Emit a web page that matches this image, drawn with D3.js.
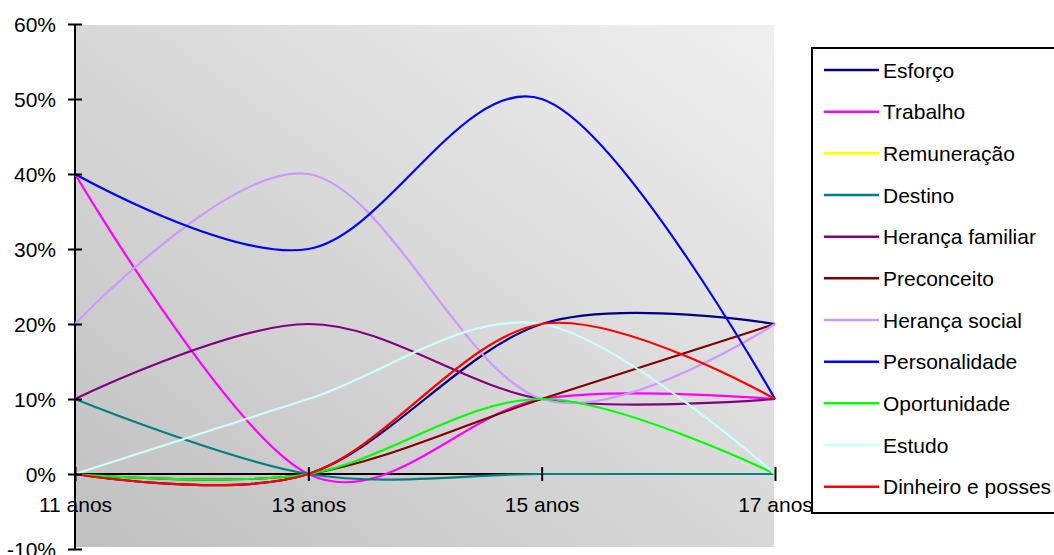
<!DOCTYPE html>
<html>
<head>
<meta charset="utf-8">
<script src="https://cdn.jsdelivr.net/npm/d3@7"></script>
<style>
  html, body { margin: 0; padding: 0; background: #ffffff; }
  svg { display: block; font-family: "Liberation Sans", Arial, sans-serif; }
</style>
</head>
<body>
<svg id="chart" width="1054" height="555"></svg>
<script>
// ---- data ----
const categories = ["11 anos", "13 anos", "15 anos", "17 anos"];
const seriesNames = ["Esforço", "Trabalho", "Remuneração", "Destino", "Herança familiar",
  "Preconceito", "Herança social", "Personalidade", "Oportunidade", "Estudo", "Dinheiro e posses"];
const seriesColors = ["#000080", "#FF00FF", "#FFFF00", "#008080", "#800080",
  "#800000", "#CC99FF", "#0000FF", "#00FF00", "#CCFFFF", "#FF0000"];
const esforco = [0, 0, 20, 20];
const trabalho = [40, 0, 10, 10];
const remuneracao = [null, null, null, null];
const destino = [10, 0, 0, 0];
const herancaFamiliar = [10, 20, 10, 10];
const preconceito = [0, 0, 10, 20];
const herancaSocial = [20, 40, 10, 20];
const personalidade = [40, 30, 50, 10];
const oportunidade = [0, 0, 10, 0];
const estudo = [0, 10, 20, 0];
const dinheiro = [0, 0, 20, 10];
const seriesValues = [esforco, trabalho, remuneracao, destino, herancaFamiliar,
  preconceito, herancaSocial, personalidade, oportunidade, estudo, dinheiro];
const yTicks = [-10, 0, 10, 20, 30, 40, 50, 60];

// ---- layout ----
const svg = d3.select("#chart");
const x = d3.scalePoint().domain(categories).range([75, 775]);
const y = d3.scaleLinear().domain([-10, 60]).range([549, 24]);

const defs = svg.append("defs");
const grad = defs.append("linearGradient").attr("id", "bg")
  .attr("x1", 0).attr("y1", 1).attr("x2", 1).attr("y2", 0);
grad.append("stop").attr("offset", 0).attr("stop-color", "#c0c0c0");
grad.append("stop").attr("offset", 1).attr("stop-color", "#f0f0f0");

svg.append("rect")
  .attr("x", 75).attr("y", 25).attr("width", 699).attr("height", 522)
  .attr("fill", "url(#bg)");

// axis lines
svg.append("line").attr("x1", 75).attr("x2", 75).attr("y1", y(60)).attr("y2", y(-10))
  .attr("stroke", "#000").attr("stroke-width", 2);
svg.append("line").attr("x1", x(categories[0])).attr("x2", x(categories[3]))
  .attr("y1", y(0)).attr("y2", y(0)).attr("stroke", "#000").attr("stroke-width", 2);

// series
const line = d3.line()
  .defined(d => d.v !== null)
  .x(d => x(d.c))
  .y(d => y(d.v))
  .curve(d3.curveCardinal.tension(0));

seriesValues.forEach((vals, i) => {
  const pts = vals.map((v, j) => ({ c: categories[j], v: v }));
  if (pts.every(p => p.v === null)) return;
  svg.append("path").datum(pts)
    .attr("d", line)
    .attr("fill", "none")
    .attr("stroke", seriesColors[i])
    .attr("stroke-width", 2.2)
    .attr("stroke-linejoin", "round");
});

// y axis ticks & labels
const yAxis = d3.axisLeft(y).tickValues(yTicks).tickFormat(d => d + "%")
  .tickSizeInner(7).tickSizeOuter(0).tickPadding(12);
const gy = svg.append("g").attr("transform", "translate(75,0)").call(yAxis);
gy.select(".domain").remove();
gy.selectAll(".tick line").attr("x1", 7).attr("x2", -7).attr("stroke", "#000").attr("stroke-width", 2);
gy.selectAll(".tick text").attr("font-size", 21).attr("fill", "#000")
  .attr("font-family", "'Liberation Sans', Arial, sans-serif").attr("dy", "0.35em");

// x axis ticks & labels
const xAxis = d3.axisBottom(x).tickSizeInner(7).tickSizeOuter(0).tickPadding(0);
const gx = svg.append("g").attr("transform", `translate(0,${y(0)})`).call(xAxis);
gx.select(".domain").remove();
gx.selectAll(".tick line").attr("y1", -7).attr("y2", 7).attr("stroke", "#000").attr("stroke-width", 2);
gx.selectAll(".tick text").attr("font-size", 21).attr("fill", "#000")
  .attr("font-family", "'Liberation Sans', Arial, sans-serif")
  .attr("y", 38).attr("dy", null);

// legend
const lg = svg.append("g");
lg.append("rect").attr("x", 812).attr("y", 48).attr("width", 260).attr("height", 465)
  .attr("fill", "#fff").attr("stroke", "#000").attr("stroke-width", 2);
seriesNames.forEach((name, i) => {
  const cy = 70 + i * 41.67;
  lg.append("line").attr("x1", 824).attr("x2", 879).attr("y1", cy).attr("y2", cy)
    .attr("stroke", seriesColors[i]).attr("stroke-width", 2.5);
  lg.append("text").attr("x", 883).attr("y", cy + 7.5)
    .attr("font-size", 21).attr("fill", "#000").text(name);
});
</script>
</body>
</html>
